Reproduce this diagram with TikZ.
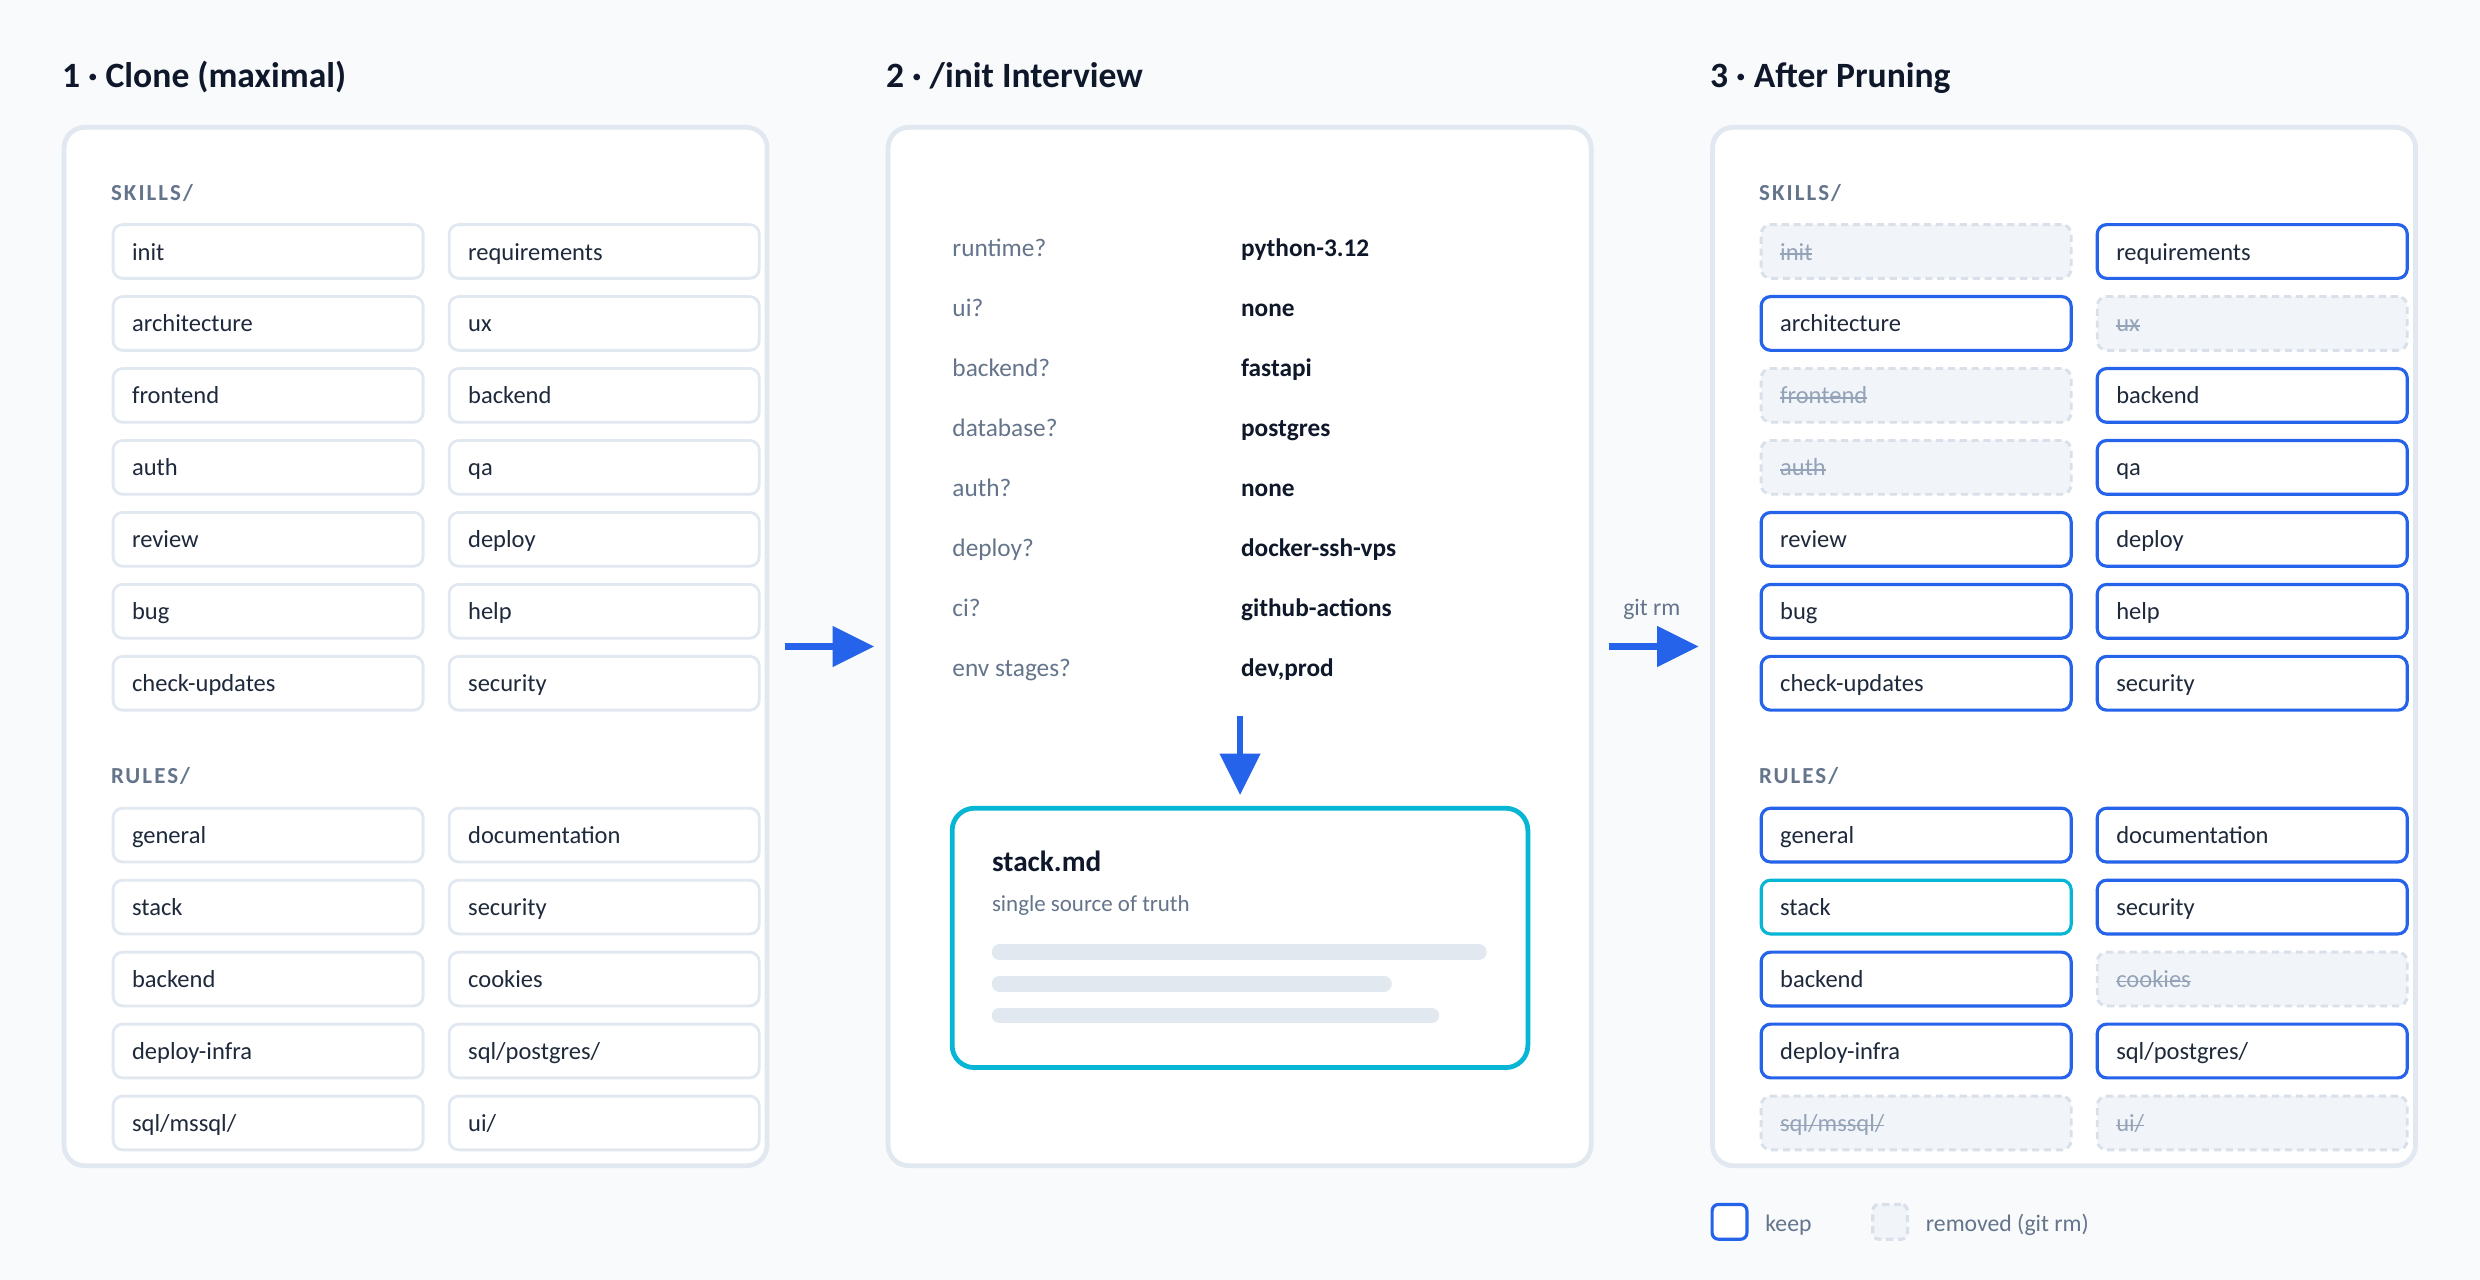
\documentclass[tikz,border=0pt]{standalone}
\usepackage{fontspec}
\setmainfont{Carlito}
\newfontfamily\capsfont[LetterSpace=9]{Carlito}
\usetikzlibrary{arrows.meta}

\definecolor{bg}{HTML}{F8FAFC}
\definecolor{panelline}{HTML}{E2E8F0}
\definecolor{itemline}{HTML}{E2E8F0}
\definecolor{ink}{HTML}{0F172A}
\definecolor{inksoft}{HTML}{1E293B}
\definecolor{muted}{HTML}{64748B}
\definecolor{keepblue}{HTML}{2563EB}
\definecolor{pincyan}{HTML}{06B6D4}
\definecolor{gonefill}{HTML}{F1F5F9}
\definecolor{goneline}{HTML}{D9E0EA}
\definecolor{gonetext}{HTML}{94A3B8}
\definecolor{barfill}{HTML}{E2E8F0}

% struck-through text for removed entries
\newsavebox\strikebox
\newcommand\strike[1]{\sbox\strikebox{#1}%
  \rlap{\vrule height \dimexpr0.25em+0.55pt\relax depth \dimexpr-0.25em+0.55pt\relax width \wd\strikebox}%
  \usebox\strikebox}

\tikzset{
  panel/.style={draw=panelline, line width=3pt, fill=white, rounded corners=13pt,
    minimum width=444.5pt, minimum height=656.5pt},
  item/.style={draw=itemline, line width=1.8pt, fill=white, rounded corners=6pt,
    minimum width=196pt, minimum height=34pt, inner xsep=12pt, text width=172pt,
    align=left, text height=14pt, text depth=3.2pt,
    font=\fontsize{15.5}{18}\selectfont, text=inksoft},
  keep/.style={item, draw=keepblue, line width=2pt},
  pinned/.style={item, draw=pincyan, line width=2pt},
  gone/.style={item, draw=goneline, dash pattern=on 4.5pt off 3pt,
    fill=gonefill, text=gonetext},
  swatch/.style={draw=keepblue, line width=2pt, fill=white, rounded corners=4pt,
    minimum width=22pt, minimum height=22pt, inner sep=0pt},
  goneswatch/.style={swatch, draw=goneline, fill=gonefill, dash pattern=on 4.5pt off 3pt},
  title/.style={anchor=base west, inner sep=0pt, text=ink,
    font=\bfseries\fontsize{22.5}{26}\selectfont},
  section/.style={anchor=base west, inner sep=0pt, text=muted,
    font={\capsfont\bfseries\fontsize{14.5}{17}\selectfont}},
  ask/.style={anchor=base west, inner sep=0pt, text=muted,
    font=\fontsize{16}{19}\selectfont},
  reply/.style={anchor=base west, inner sep=0pt, text=ink,
    font=\bfseries\fontsize{16}{19}\selectfont},
  note/.style={anchor=base west, inner sep=0pt, text=muted,
    font=\fontsize{15}{18}\selectfont},
  card/.style={draw=pincyan, line width=3pt, fill=white, rounded corners=14pt,
    minimum width=364pt, minimum height=164pt},
  bar/.style={draw=barfill, line width=10pt, line cap=round},
  flow/.style={-{Triangle[length=26pt,width=26pt,line width=0pt]}, color=keepblue,
    line width=3.8pt},
}

\begin{document}
\begin{tikzpicture}[x=1pt,y=-1pt]
  \fill[bg] (0,0) rectangle (1568,809);
  \useasboundingbox (0,0) rectangle (1568,809);

  % titles
  \node[title] (T1) at (39,55.5) {1 · Clone (maximal)};
  \node[title] (T2) at (560,55.5) {2 · /init Interview};
  \node[title] (T3) at (1081,55.5) {3 · After Pruning};

  % panels
  \node[panel] (P1) at (262.75,408.75) {};
  \node[panel] (P2) at (783.75,408.75) {};
  \node[panel] (P3) at (1305,408.75) {};

  % panel 1: clone
  \node[section] (H1s) at (70,126.5) {SKILLS/};
  \node[item] (A0s1) at (169.5,159) {init};
  \node[item] (A1s1) at (382,159) {requirements};
  \node[item] (A0s2) at (169.5,204.5) {architecture};
  \node[item] (A1s2) at (382,204.5) {ux};
  \node[item] (A0s3) at (169.5,250) {frontend};
  \node[item] (A1s3) at (382,250) {backend};
  \node[item] (A0s4) at (169.5,295.5) {auth};
  \node[item] (A1s4) at (382,295.5) {qa};
  \node[item] (A0s5) at (169.5,341) {review};
  \node[item] (A1s5) at (382,341) {deploy};
  \node[item] (A0s6) at (169.5,386.5) {bug};
  \node[item] (A1s6) at (382,386.5) {help};
  \node[item] (A0s7) at (169.5,432) {check-updates};
  \node[item] (A1s7) at (382,432) {security};
  \node[section] (H1r) at (70,495.5) {RULES/};
  \node[item] (A0r1) at (169.5,528) {general};
  \node[item] (A1r1) at (382,528) {documentation};
  \node[item] (A0r2) at (169.5,573.5) {stack};
  \node[item] (A1r2) at (382,573.5) {security};
  \node[item] (A0r3) at (169.5,619) {backend};
  \node[item] (A1r3) at (382,619) {cookies};
  \node[item] (A0r4) at (169.5,664.5) {deploy-infra};
  \node[item] (A1r4) at (382,664.5) {sql/postgres/};
  \node[item] (A0r5) at (169.5,710) {sql/mssql/};
  \node[item] (A1r5) at (382,710) {ui/};

  % panel 2: interview
  \node[ask] (Q1) at (602,162.3) {runtime?};
  \node[ask] (Q2) at (602,200.2) {ui?};
  \node[ask] (Q3) at (602,238.2) {backend?};
  \node[ask] (Q4) at (602,276.1) {database?};
  \node[ask] (Q5) at (602,314.0) {auth?};
  \node[ask] (Q6) at (602,352.0) {deploy?};
  \node[ask] (Q7) at (602,389.9) {ci?};
  \node[ask] (Q8) at (602,427.8) {env stages?};
  \node[reply] (V1) at (784.5,162.3) {python-3.12};
  \node[reply] (V2) at (784.5,200.2) {none};
  \node[reply] (V3) at (784.5,238.2) {fastapi};
  \node[reply] (V4) at (784.5,276.1) {postgres};
  \node[reply] (V5) at (784.5,314.0) {none};
  \node[reply] (V6) at (784.5,352.0) {docker-ssh-vps};
  \node[reply] (V7) at (784.5,389.9) {github-actions};
  \node[reply] (V8) at (784.5,427.8) {dev,prod};
  \coordinate (Qend) at (784,453);
  \node[card] (S) at (784,593) {};
  \node[anchor=base west, inner sep=0pt, text=ink,
    font=\bfseries\fontsize{18.5}{22}\selectfont] (S1) at (627,551) {stack.md};
  \node[anchor=base west, inner sep=0pt, text=muted,
    font=\fontsize{14.5}{17}\selectfont] (S2) at (627,576) {single source of truth};
  \draw[bar] (632,602) -- (935,602);
  \draw[bar] (632,622) -- (875,622);
  \draw[bar] (632,642) -- (905,642);

  % panel 3: after pruning
  \node[section] (H3s) at (1112,126.5) {SKILLS/};
  \node[gone] (C0s1) at (1211.5,159) {\strike{init}};
  \node[keep] (C1s1) at (1424,159) {requirements};
  \node[keep] (C0s2) at (1211.5,204.5) {architecture};
  \node[gone] (C1s2) at (1424,204.5) {\strike{ux}};
  \node[gone] (C0s3) at (1211.5,250) {\strike{frontend}};
  \node[keep] (C1s3) at (1424,250) {backend};
  \node[gone] (C0s4) at (1211.5,295.5) {\strike{auth}};
  \node[keep] (C1s4) at (1424,295.5) {qa};
  \node[keep] (C0s5) at (1211.5,341) {review};
  \node[keep] (C1s5) at (1424,341) {deploy};
  \node[keep] (C0s6) at (1211.5,386.5) {bug};
  \node[keep] (C1s6) at (1424,386.5) {help};
  \node[keep] (C0s7) at (1211.5,432) {check-updates};
  \node[keep] (C1s7) at (1424,432) {security};
  \node[section] (H3r) at (1112,495.5) {RULES/};
  \node[keep] (C0r1) at (1211.5,528) {general};
  \node[keep] (C1r1) at (1424,528) {documentation};
  \node[pinned] (C0r2) at (1211.5,573.5) {stack};
  \node[keep] (C1r2) at (1424,573.5) {security};
  \node[keep] (C0r3) at (1211.5,619) {backend};
  \node[gone] (C1r3) at (1424,619) {\strike{cookies}};
  \node[keep] (C0r4) at (1211.5,664.5) {deploy-infra};
  \node[keep] (C1r4) at (1424,664.5) {sql/postgres/};
  \node[gone] (C0r5) at (1211.5,710) {\strike{sql/mssql/}};
  \node[gone] (C1r5) at (1424,710) {\strike{ui/}};

  % legend
  \node[swatch] (K) at (1093.5,772.5) {};
  \node[note] (KL) at (1116,778.7) {keep};
  \node[goneswatch] (R) at (1195,772.5) {};
  \node[note] (RL) at (1217.5,778.7) {removed (git rm)};

  % flow
  \path[flow]
    (P1) edge[shorten <=9.5pt, shorten >=7.5pt] (P2)
    (P2) edge[shorten <=9.5pt, shorten >=7.5pt]
      node[anchor=base, yshift=19.5pt, text=muted, font=\fontsize{15}{18}\selectfont] {git rm} (P3)
    (Qend) edge[shorten >=7pt] (S);
\end{tikzpicture}
\end{document}
